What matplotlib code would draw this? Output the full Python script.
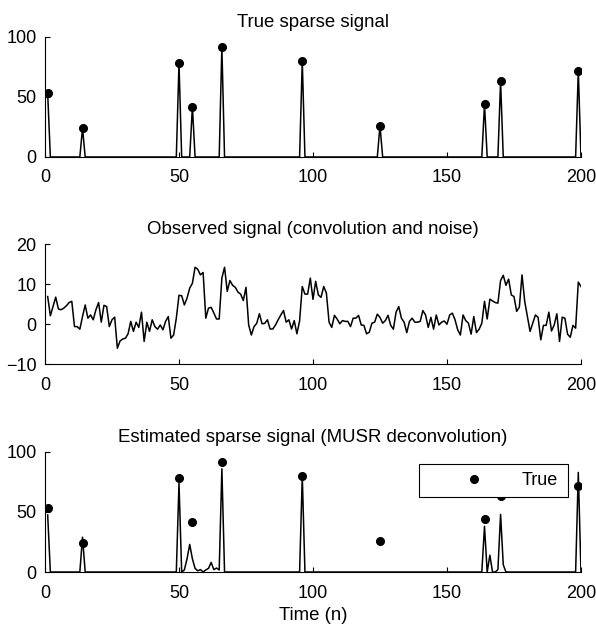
import numpy as np
import matplotlib
matplotlib.use("Agg")
import matplotlib.pyplot as plt

# true sparse signal (spike positions and amplitudes), n = 1..200
spike_pos = [1, 14, 50, 55, 66, 96, 125, 164, 170, 199]
spike_amp = [53, 24, 78, 42, 92, 80, 26, 44, 63, 72]

# observed signal (convolution + noise), n = 1..200
observed = [
    6.9, 2.1, 4.4, 6.75, 3.8, 3.6, 4.0, 4.6, 5.4, 5.7,
    -0.6, -0.6, -1.25, 1.9, 4.8, 1.5, 2.3, 1.1, 3.6, 5.4,
    0.5, 4.7, 4.4, -0.6, 1.1, 1.75, -6.0, -4.2, -3.7, -3.5,
    -2.4, 0.7, -1.8, 0.5, -0.8, 3.0, -4.3, 0.5, -1.8, 1.1,
    -0.6, -1.25, -0.2, -1.4, 0.7, 1.9, -3.5, -2.7, 1.5, 7.2,
    7.1, 4.8, 6.5, 9.0, 10.2, 14.2, 13.7, 12.3, 12.9, 1.5,
    4.0, 4.2, 2.8, 1.3, 1.3, 11.5, 14.2, 8.2, 10.9, 9.7,
    9.2, 8.0, 7.5, 5.9, 9.2, -0.2, -2.7, -0.6, 0.2, 2.6,
    0.1, 0.2, 1.1, -1.2, -1.2, -0.2, 1.1, 2.3, 3.4, 0.5,
    1.1, -1.2, 0.9, -2.4, 0.8, 9.4, 7.5, 7.5, 11.5, 6.2,
    10.7, 7.3, 6.7, 9.4, 7.75, 0.5, -0.8, 2.2, 1.3, 0.1,
    0.9, 0.7, 0.7, -0.6, 1.5, 1.5, 2.2, -0.2, -0.3, -2.4,
    -2.0, 0.25, 0.5, 2.5, 1.7, 0.25, 0.9, 2.2, -0.3, -1.25,
    3.0, 4.4, 1.5, 0.5, -2.1, 0.7, 1.5, 0.5, 0.5, 0.7,
    3.4, 2.3, -0.8, 1.7, -1.25, 2.3, -0.2, 0.5, 0.8, 0.0,
    2.3, 2.75, 1.1, -1.4, -2.7, 2.3, 0.9, 0.25, -2.5, 1.9,
    -2.1, -1.25, 0.25, 5.7, 1.3, 6.25, 5.8, 5.4, 5.25, 10.9,
    12.2, 9.7, 11.25, 7.3, 6.9, 3.2, 4.25, 12.3, 5.7, 1.9,
    -1.8, 0.25, 2.3, 1.7, -3.9, -0.3, -0.3, 3.0, -1.7, -0.2,
    2.6, -4.3, 1.75, 1.5, -2.5, -3.25, -0.3, -1.0, 10.5, 9.4,
]

# estimated sparse signal (nonzero entries only)
est_pos = [1, 14, 50, 52, 53, 54, 55, 56, 57, 58, 60, 61, 62, 63, 64, 65,
           66, 96, 164, 166, 169, 170, 171, 199]
est_amp = [47.5, 29, 74, 1.7, 11, 23, 11, 3, 1, 2, 1.7, 3, 8, 2, 3.3, 1.7,
           86, 80, 38, 14, 2, 48, 6, 83]

n = np.arange(1, 201)
x_true = np.zeros(200)
x_true[np.array(spike_pos) - 1] = spike_amp
x_est = np.zeros(200)
x_est[np.array(est_pos) - 1] = est_amp

plt.rcParams["font.family"] = ["Liberation Sans", "DejaVu Sans"]
plt.rcParams["font.size"] = 13
plt.rcParams["axes.titlesize"] = 13.4
plt.rcParams["axes.labelsize"] = 13.4

fig = plt.figure(figsize=(5.96, 6.31), dpi=100)
left, width, height = 0.0755, 0.8993, 0.1902
ax1 = fig.add_axes([left, 0.7512, width, height])
ax2 = fig.add_axes([left, 0.4227, width, 0.1906])
ax3 = fig.add_axes([left, 0.0935, width, height])

lw = 1.1
ms = 11

ax1.plot(n, x_true, color="k", lw=lw)
ax1.plot(spike_pos, spike_amp, "k.", ms=ms)
ax1.set_ylim(0, 100)
ax1.set_yticks([0, 50, 100])
ax1.set_title("True sparse signal", pad=7)

ax2.plot(n, observed, color="k", lw=lw)
ax2.set_ylim(-10, 20)
ax2.set_yticks([-10, 0, 10, 20])
ax2.set_title("Observed signal (convolution and noise)", pad=7)

ax3.plot(n, x_est, color="k", lw=lw)
ax3.plot(spike_pos, spike_amp, "k.", ms=ms, label="True")
ax3.set_ylim(0, 100)
ax3.set_yticks([0, 50, 100])
ax3.set_title("Estimated sparse signal (MUSR deconvolution)", pad=7)
ax3.set_xlabel("Time (n)")
leg = ax3.legend(loc="upper left", bbox_to_anchor=(0.698, 0.5, 0.278, 0.4),
                 mode="expand", handlelength=5.2, handletextpad=0.0,
                 borderpad=0.45, borderaxespad=0, fancybox=False,
                 framealpha=1, edgecolor="k", numpoints=1)
leg.get_frame().set_linewidth(0.8)

for ax in (ax1, ax2, ax3):
    ax.set_xlim(0, 200)
    ax.set_xticks([0, 50, 100, 150, 200])
    ax.spines["top"].set_visible(False)
    ax.spines["right"].set_visible(False)
    ax.spines["left"].set_linewidth(0.8)
    ax.spines["bottom"].set_linewidth(0.8)
    ax.tick_params(direction="in", length=3.6, width=0.8)
    ax.tick_params(axis="x", pad=9)
    ax.tick_params(axis="y", pad=6)

fig.savefig("out.png", dpi=100)
